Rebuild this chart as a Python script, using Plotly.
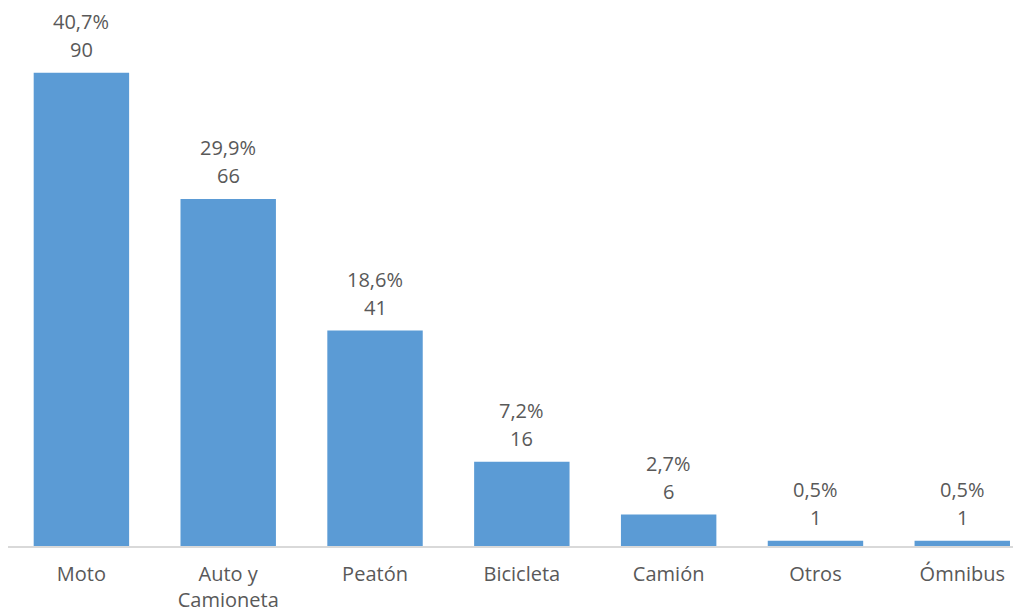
import plotly.graph_objects as go

categories = ["Moto", "Auto y<br>Camioneta", "Peatón", "Bicicleta", "Camión", "Otros", "Ómnibus"]
counts = [90, 66, 41, 16, 6, 1, 1]
percents = ["40,7%", "29,9%", "18,6%", "7,2%", "2,7%", "0,5%", "0,5%"]

BAR = "#5b9bd5"
TXT = "#595959"
FONT = "Open Sans"
FS = 20

fig = go.Figure()
fig.add_trace(go.Bar(
    x=list(range(len(categories))), y=counts, marker_color=BAR,
    marker_line_width=0, width=0.65, hoverinfo="skip",
))

annotations = []
for i, (c, p) in enumerate(zip(counts, percents)):
    annotations.append(dict(x=i, y=c, xref="x", yref="y", text=str(c), showarrow=False,
                            yanchor="middle", yshift=23, font=dict(family=FONT, size=FS, color=TXT)))
    annotations.append(dict(x=i, y=c, xref="x", yref="y", text=p, showarrow=False,
                            yanchor="middle", yshift=51, font=dict(family=FONT, size=FS, color=TXT)))

fig.update_layout(
    width=1013, height=606,
    margin=dict(l=0, r=0, t=0, b=68, autoexpand=False),
    paper_bgcolor="white", plot_bgcolor="white",
    showlegend=False,
    annotations=annotations,
    font=dict(family=FONT, size=FS, color=TXT),
    xaxis=dict(
        tickmode="array", tickvals=list(range(len(categories))), ticktext=categories,
        range=[-0.5, 6.4], showline=True, linecolor="#d9d9d9", linewidth=1.5,
        showgrid=False, zeroline=False, ticks="", fixedrange=True,
        ticklabelstandoff=9,
        tickfont=dict(family=FONT, size=FS, color=TXT),
    ),
    yaxis=dict(range=[0, 102.3], visible=False, showgrid=False, zeroline=False, fixedrange=True),
)

fig.write_html("out.html", config={"displayModeBar": False})
